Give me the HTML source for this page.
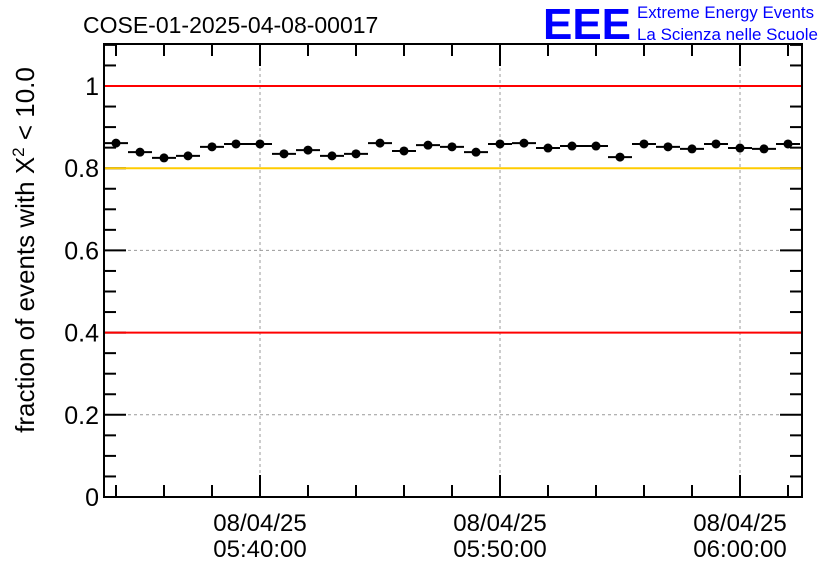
<!DOCTYPE html>
<html><head><meta charset="utf-8"><style>
body{margin:0;background:#fff;}
svg{display:block;font-family:"Liberation Sans",Arial,sans-serif;}
</style></head><body>
<svg id="c" width="836" height="572" viewBox="0 0 836 572">
<text x="83" y="33" font-size="23" fill="#000">COSE-01-2025-04-08-00017</text>
<g>
<text x="543" y="39" font-size="44" fill="#0000ff" font-weight="bold" textLength="88" lengthAdjust="spacingAndGlyphs">EEE</text>
<text x="637" y="18" font-size="16.5" fill="#0000ff" textLength="177" lengthAdjust="spacingAndGlyphs">Extreme Energy Events</text>
<text x="637" y="40" font-size="16.5" fill="#0000ff" textLength="181" lengthAdjust="spacingAndGlyphs">La Scienza nelle Scuole</text>
</g>
<text transform="translate(34,250) rotate(-90)" text-anchor="middle" font-size="26">fraction of events with Χ<tspan dy="-10" font-size="17">2</tspan><tspan dy="10"> &lt; 10.0</tspan></text>
<g id="grid"></g><g id="axes"></g><g id="refs"></g><g id="marks"></g>
</svg>
<script>
const values=[0.861,0.839,0.825,0.830,0.852,0.859,0.859,0.835,0.844,0.830,0.835,0.861,0.842,0.856,0.852,0.839,0.859,0.861,0.849,0.854,0.854,0.827,0.859,0.852,0.847,0.859,0.849,0.847,0.859];
const startMin=34; // bin centers start 05:34 (1-min bins)
const yTicks=[0,0.2,0.4,0.6,0.8,1];
const yTickLabels=["0","0.2","0.4","0.6","0.8","1"];
const xMajorMin=[40,50,60];
const xMajorLabels=["05:40:00","05:50:00","06:00:00"];
const refLines=[1.0,0.8,0.4];
const refColors=["#ff0000","#ffcc00","#ff0000"];
const L=104,R=802,T=44,B=497;
const X=m=>260+(m-40)*24;
const Y=v=>B-v*411;
const ns="http://www.w3.org/2000/svg";
function mk(tag,attrs,parent){const e=document.createElementNS(ns,tag);for(const k in attrs)e.setAttribute(k,attrs[k]);document.getElementById(parent).appendChild(e);return e;}
xMajorMin.forEach(m=>{const e=mk('line',{x1:X(m),x2:X(m),y1:T,y2:B,stroke:'#999','stroke-dasharray':'3,3'},'grid');

});
yTicks.forEach(v=>{if(v===0)return;const e=mk('line',{x1:L,x2:R,y1:Y(v),y2:Y(v),stroke:'#999','stroke-dasharray':'3,3'},'grid');

});
refLines.forEach((v,i)=>{const e=mk('line',{x1:L+1,x2:R-1,y1:Y(v),y2:Y(v),stroke:refColors[i],'stroke-width':2},'refs');

});
values.forEach((v,i)=>{const m=startMin+i;const y=Y(v);
const l=mk('line',{x1:X(m-0.5),x2:Math.min(X(m+0.5),R),y1:y,y2:y,stroke:'#000','stroke-width':2},'marks');


const c=mk('circle',{cx:X(m),cy:y,r:4.5,fill:'#000'},'marks');

});
const f=mk('rect',{x:L,y:T,width:R-L,height:B-T,fill:'none',stroke:'#000','stroke-width':2},'axes');


for(let k=0;k<=22;k++){const v=k*0.05;const y=Y(v);if(y<T)continue;const len=(k%4===0)?22:12;
const a=mk('line',{x1:L,x2:L+len,y1:y,y2:y,stroke:'#000','stroke-width':2},'axes');


const b=mk('line',{x1:R-len,x2:R,y1:y,y2:y,stroke:'#000','stroke-width':2},'axes');

}
yTicks.forEach((v,i)=>{const t=mk('text',{x:L-5,y:Y(v)+9,'text-anchor':'end','font-size':25},'axes');t.textContent=yTickLabels[i];

});
for(let m=34;m<=62;m+=2){const x=X(m);if(x<L||x>R)continue;const len=(m%10===0)?22:12;
const a=mk('line',{x1:x,x2:x,y1:B,y2:B-len,stroke:'#000','stroke-width':2},'axes');


const b=mk('line',{x1:x,x2:x,y1:T,y2:T+len,stroke:'#000','stroke-width':2},'axes');

}
xMajorMin.forEach((m,i)=>{const t1=mk('text',{x:X(m),y:531,'text-anchor':'middle','font-size':24},'axes');t1.textContent="08/04/25";


const t2=mk('text',{x:X(m),y:557,'text-anchor':'middle','font-size':24},'axes');t2.textContent=xMajorLabels[i];

});
</script>
</body></html>
